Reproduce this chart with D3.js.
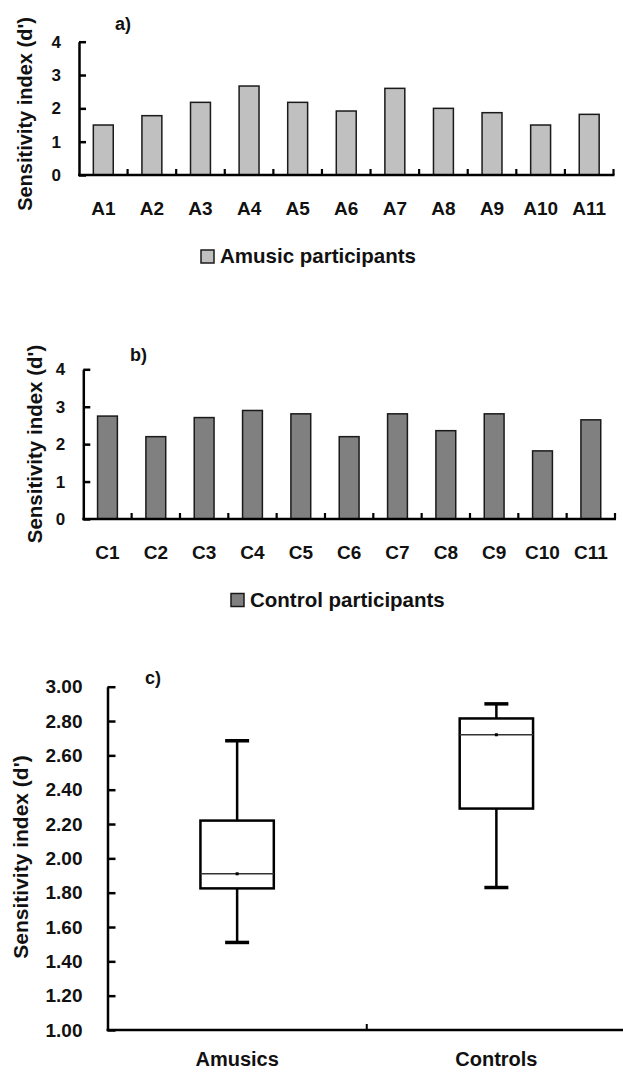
<!DOCTYPE html>
<html>
<head>
<meta charset="utf-8">
<script src="https://cdn.jsdelivr.net/npm/d3@7"></script>
<style>
  html, body { margin: 0; padding: 0; background: #ffffff; }
  svg { display: block; font-family: "Liberation Sans", Arial, sans-serif; font-weight: bold; }
</style>
</head>
<body>
<svg id="chart" width="623" height="1072"></svg>
<script>
// ---------- data ----------
const amusicCats = ["A1","A2","A3","A4","A5","A6","A7","A8","A9","A10","A11"];
const amusicVals = [1.50, 1.78, 2.18, 2.67, 2.18, 1.92, 2.60, 2.00, 1.87, 1.50, 1.82];
const controlCats = ["C1","C2","C3","C4","C5","C6","C7","C8","C9","C10","C11"];
const controlVals = [2.75, 2.20, 2.71, 2.90, 2.81, 2.20, 2.81, 2.36, 2.81, 1.82, 2.65];
const barTicks = [0, 1, 2, 3, 4];

const boxGroups = ["Amusics", "Controls"];
const boxMin    = [1.51, 1.83];
const boxQ1     = [1.825, 2.29];
const boxMedian = [1.91, 2.72];
const boxQ3     = [2.22, 2.815];
const boxMax    = [2.685, 2.90];
const boxMean   = [1.91, 2.72];
const boxTicks  = [1.0, 1.2, 1.4, 1.6, 1.8, 2.0, 2.2, 2.4, 2.6, 2.8, 3.0];

const yTitle = "Sensitivity index (d')";

const svg = d3.select("#chart");

function barPanel(opt) {
  const g = svg.append("g");
  const x = d3.scaleBand().domain(opt.cats).range([opt.x0, opt.x1]).paddingInner(0.59).paddingOuter(0.295);
  const xb = d3.scaleBand().domain(opt.cats).range([opt.x0, opt.x1]).padding(0);
  const y = d3.scaleLinear().domain([0, 4]).range([opt.y0, opt.y1]);

  // bars
  g.selectAll("rect.bar").data(opt.vals).join("rect")
    .attr("class", "bar")
    .attr("x", (d, i) => x(opt.cats[i]))
    .attr("width", x.bandwidth())
    .attr("y", d => y(d))
    .attr("height", d => y(0) - y(d))
    .attr("fill", opt.fill)
    .attr("stroke", "#1a1a1a")
    .attr("stroke-width", 1.5);

  // y axis
  const ya = g.append("g").attr("transform", `translate(${opt.x0},0)`)
    .call(d3.axisLeft(y).tickValues(barTicks).tickSize(-7).tickSizeOuter(0).tickPadding(18).tickFormat(d3.format("d")));
  ya.select(".domain").attr("stroke", "#000").attr("stroke-width", 2.5);
  ya.selectAll(".tick line").attr("stroke", "#000").attr("stroke-width", 2.5);
  ya.selectAll(".tick text").attr("font-size", opt.tickFont).attr("font-weight", "bold")
    .attr("font-family", "Liberation Sans, Arial, sans-serif").attr("fill", "#111");

  // x axis labels
  const xa = g.append("g").attr("transform", `translate(0,${opt.y0})`)
    .call(d3.axisBottom(x).tickSize(0).tickPadding(27));
  xa.select(".domain").remove();
  xa.selectAll(".tick text").attr("font-size", 19).attr("font-weight", "bold")
    .attr("font-family", "Liberation Sans, Arial, sans-serif").attr("fill", "#111");

  // x axis line + boundary ticks
  g.append("line").attr("x1", opt.x0 - 1).attr("x2", opt.x1 + 1)
    .attr("y1", opt.y0).attr("y2", opt.y0).attr("stroke", "#000").attr("stroke-width", 2.5);
  g.selectAll("line.bt").data(opt.cats).join("line")
    .attr("class", "bt")
    .attr("x1", d => xb(d) + xb.bandwidth()).attr("x2", d => xb(d) + xb.bandwidth())
    .attr("y1", opt.y0).attr("y2", opt.y0 - 6)
    .attr("stroke", "#000").attr("stroke-width", 2.2);

  // panel label
  g.append("text").attr("x", opt.labX).attr("y", opt.labY).attr("font-size", 18).attr("fill", "#111").text(opt.label);

  // y title
  g.append("text").attr("transform", `translate(${opt.titleX},${opt.titleY}) rotate(-90)`)
    .attr("text-anchor", "middle").attr("dy", "0.36em").attr("font-size", opt.titleFont).attr("fill", "#111")
    .text(yTitle);

  // legend
  g.append("rect").attr("x", opt.legX).attr("y", opt.legY).attr("width", 13).attr("height", 13)
    .attr("fill", opt.fill).attr("stroke", "#1a1a1a").attr("stroke-width", 1.5);
  g.append("text").attr("x", opt.legX + 19).attr("y", opt.legY + 13).attr("font-size", 20.5).attr("fill", "#111")
    .text(opt.legend);
}

barPanel({
  cats: amusicCats, vals: amusicVals, fill: "#c0c0c0",
  x0: 79, x1: 613.5, y0: 175, y1: 41.7, tickFont: 17,
  label: "a)", labX: 115, labY: 30,
  titleX: 25, titleY: 114, titleFont: 20,
  legX: 201, legY: 250, legend: "Amusic participants"
});

barPanel({
  cats: controlCats, vals: controlVals, fill: "#808080",
  x0: 83.3, x1: 615, y0: 519, y1: 369.3, tickFont: 17,
  label: "b)", labX: 130, labY: 361,
  titleX: 35, titleY: 444, titleFont: 20.5,
  legX: 231, legY: 593.5, legend: "Control participants"
});

// ---------- panel c: box plot ----------
(function () {
  const g = svg.append("g");
  const X0 = 107.5, X1 = 626, Y0 = 1030, Y1 = 686.7;
  const x = d3.scaleBand().domain(boxGroups).range([X0, X1]).padding(0);
  const y = d3.scaleLinear().domain([1, 3]).range([Y0, Y1]);
  const bw = x.bandwidth() * 0.283;
  const cw = 24;

  const ya = g.append("g").attr("transform", `translate(${X0},0)`)
    .call(d3.axisLeft(y).tickValues(boxTicks).tickSize(-8).tickSizeOuter(0).tickPadding(25).tickFormat(d3.format(".2f")));
  ya.select(".domain").attr("stroke", "#000").attr("stroke-width", 2.5);
  ya.selectAll(".tick line").attr("stroke", "#000").attr("stroke-width", 2.5);
  ya.selectAll(".tick text").attr("font-size", 19).attr("font-weight", "bold")
    .attr("font-family", "Liberation Sans, Arial, sans-serif").attr("fill", "#111");

  const xa = g.append("g").attr("transform", `translate(0,${Y0})`)
    .call(d3.axisBottom(x).tickSize(0).tickPadding(22));
  xa.select(".domain").remove();
  xa.selectAll(".tick text").attr("font-size", 20).attr("font-weight", "bold")
    .attr("font-family", "Liberation Sans, Arial, sans-serif").attr("fill", "#111");

  g.append("line").attr("x1", X0 - 1).attr("x2", X1).attr("y1", Y0).attr("y2", Y0)
    .attr("stroke", "#000").attr("stroke-width", 2.5);
  const mid = x(boxGroups[1]);
  g.append("line").attr("x1", mid).attr("x2", mid).attr("y1", Y0).attr("y2", Y0 - 6)
    .attr("stroke", "#000").attr("stroke-width", 2);

  boxGroups.forEach((grp, i) => {
    const cx = x(grp) + x.bandwidth() / 2;
    // whiskers
    g.append("line").attr("x1", cx).attr("x2", cx).attr("y1", y(boxMax[i])).attr("y2", y(boxQ3[i]))
      .attr("stroke", "#000").attr("stroke-width", 2.5);
    g.append("line").attr("x1", cx).attr("x2", cx).attr("y1", y(boxQ1[i])).attr("y2", y(boxMin[i]))
      .attr("stroke", "#000").attr("stroke-width", 2.5);
    // caps
    g.append("line").attr("x1", cx - cw / 2).attr("x2", cx + cw / 2).attr("y1", y(boxMax[i])).attr("y2", y(boxMax[i]))
      .attr("stroke", "#000").attr("stroke-width", 3.5);
    g.append("line").attr("x1", cx - cw / 2).attr("x2", cx + cw / 2).attr("y1", y(boxMin[i])).attr("y2", y(boxMin[i]))
      .attr("stroke", "#000").attr("stroke-width", 3.5);
    // box
    g.append("rect").attr("x", cx - bw / 2).attr("width", bw)
      .attr("y", y(boxQ3[i])).attr("height", y(boxQ1[i]) - y(boxQ3[i]))
      .attr("fill", "#fff").attr("stroke", "#000").attr("stroke-width", 2.5);
    // median
    g.append("line").attr("x1", cx - bw / 2).attr("x2", cx + bw / 2).attr("y1", y(boxMedian[i])).attr("y2", y(boxMedian[i]))
      .attr("stroke", "#333").attr("stroke-width", 1.5);
    // mean
    g.append("rect").attr("x", cx - 1.5).attr("y", y(boxMean[i]) - 1.5).attr("width", 3).attr("height", 3).attr("fill", "#000");
  });

  g.append("text").attr("x", 145).attr("y", 684).attr("font-size", 18).attr("fill", "#111").text("c)");
  g.append("text").attr("transform", `translate(20,857) rotate(-90)`)
    .attr("text-anchor", "middle").attr("dy", "0.36em").attr("font-size", 21).attr("fill", "#111")
    .text(yTitle);
})();
</script>
</body>
</html>
